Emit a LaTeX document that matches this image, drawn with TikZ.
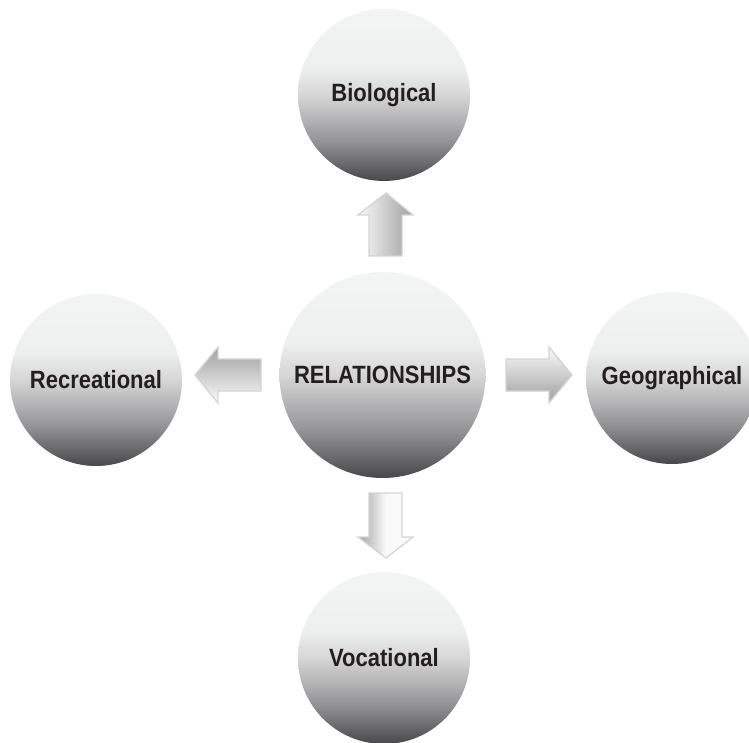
\documentclass[tikz,border=0pt]{standalone}
\usepackage{fontspec}
\newfontfamily\lab{Liberation Sans}[FakeStretch=0.88]
\definecolor{txt}{RGB}{35,31,32}
\definecolor{bA}{RGB}{72,72,75}
\definecolor{bB}{RGB}{150,150,152}
\definecolor{bC}{RGB}{214,214,215}
\definecolor{bD}{RGB}{238,239,239}
\definecolor{bE}{RGB}{243,244,244}
\definecolor{aOut}{RGB}{212,212,213}
\definecolor{aDark}{RGB}{160,160,162}
\definecolor{aLight}{RGB}{250,250,250}
\pgfdeclareverticalshading{ballshade}{100bp}{color(0bp)=(bA); color(25bp)=(bA); color(37bp)=(bB); color(50bp)=(bC); color(58bp)=(bD); color(75bp)=(bE); color(100bp)=(bE)}
\tikzset{
  ball/.style={circle, inner sep=0pt, minimum size=#1, shading=ballshade,
    font=\lab\bfseries\fontsize{25}{30}\selectfont, text=txt},
  blockarrow/.style={draw=aOut, line width=1.3pt, line join=miter}
}
\begin{document}
\begin{tikzpicture}[x=1pt,y=-1pt]
\useasboundingbox (0,0) rectangle (749,743);
% circles
\node[ball=206pt] (rel) at (382.5,375) {RELATIONSHIPS};
\node[ball=172pt] (bio) at (384,95) {Biological};
\node[ball=172pt] (rec) at (96,380) {Recreational};
\node[ball=172pt] (geo) at (672,378) {Geographical};
\node[ball=172pt] (voc) at (384,658) {Vocational};
% block arrows
\draw[blockarrow, left color=aLight, right color=aDark]
  (369,256) -- (369,215) -- (358,215) -- (386,193) -- (413,215) -- (402,215) -- (402,256) -- cycle;
\draw[blockarrow, top color=aDark, bottom color=aLight]
  (261,359) -- (218,359) -- (218,347) -- (195,375) -- (218,403) -- (218,391) -- (261,391) -- cycle;
\draw[blockarrow, top color=aLight, bottom color=aDark]
  (506,359) -- (549,359) -- (549,347) -- (572,375) -- (549,403) -- (549,391) -- (506,391) -- cycle;
\draw[blockarrow, left color=aDark, right color=aLight, middle color=aLight]
  (369,493) -- (402,493) -- (402,537) -- (413,537) -- (386,558) -- (358,537) -- (369,537) -- cycle;
\end{tikzpicture}
\end{document}
